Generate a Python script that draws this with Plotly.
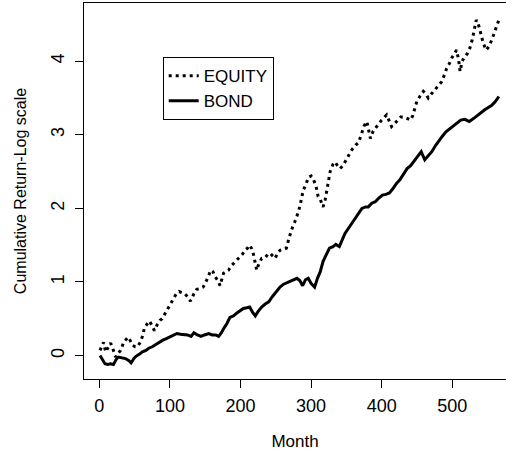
import plotly.graph_objects as go

bond_month = [1, 4, 8, 12, 16, 20, 24, 27, 32, 37, 42, 45, 49, 52, 57, 61, 66, 70, 75, 80,
              85, 90, 95, 100, 105, 110, 115, 120, 125, 130, 134, 139, 144, 149, 155, 160, 165, 169, 173, 177,
              181, 185, 190, 195, 199, 204, 209, 213, 217, 221, 225, 230, 235, 240, 245, 251, 256, 261, 266, 271,
              276, 280, 284, 288, 292, 296, 300, 305, 309, 313, 317, 321, 326, 331, 335, 340, 344, 348, 353, 358,
              363, 368, 372, 377, 381, 386, 391, 396, 401, 406, 411, 416, 421, 426, 431, 436, 441, 447, 452, 456,
              461, 466, 471, 476, 481, 486, 491, 496, 501, 506, 512, 518, 524, 530, 536, 541, 546, 551, 556, 561, 566]
bond = [0.00, -0.05, -0.11, -0.12, -0.11, -0.12, -0.05, -0.02, -0.03, -0.04, -0.07, -0.10, -0.04, -0.01, 0.02, 0.05, 0.07, 0.10, 0.12, 0.15,
        0.19, 0.21, 0.23, 0.25, 0.27, 0.30, 0.29, 0.29, 0.28, 0.26, 0.31, 0.28, 0.26, 0.28, 0.30, 0.28, 0.28, 0.26, 0.31, 0.38,
        0.44, 0.52, 0.54, 0.58, 0.61, 0.64, 0.65, 0.66, 0.59, 0.54, 0.60, 0.66, 0.70, 0.73, 0.80, 0.88, 0.93, 0.97, 0.99, 1.01,
        1.03, 1.05, 1.02, 0.95, 1.03, 1.05, 0.98, 0.93, 1.05, 1.14, 1.28, 1.36, 1.46, 1.48, 1.51, 1.48, 1.57, 1.66, 1.73, 1.80,
        1.87, 1.95, 2.00, 2.02, 2.02, 2.07, 2.09, 2.14, 2.18, 2.19, 2.21, 2.27, 2.34, 2.39, 2.46, 2.54, 2.58, 2.66, 2.73, 2.77,
        2.66, 2.72, 2.77, 2.85, 2.92, 2.98, 3.04, 3.08, 3.12, 3.15, 3.20, 3.21, 3.18, 3.22, 3.27, 3.31, 3.34, 3.37, 3.40, 3.45, 3.52]

equity_month = [1, 4, 6, 9, 12, 16, 19, 23, 26, 30, 35, 41, 44, 47, 51, 54, 58, 61, 64, 68,
                71, 75, 78, 82, 86, 89, 94, 100, 105, 109, 113, 117, 121, 125, 129, 134, 138, 142, 147, 151,
                155, 158, 161, 164, 168, 171, 176, 180, 183, 187, 190, 195, 199, 203, 206, 210, 213, 216, 218, 221,
                223, 226, 230, 235, 239, 242, 246, 249, 253, 256, 261, 265, 268, 272, 277, 282, 285, 289, 293, 296,
                300, 303, 307, 310, 313, 317, 320, 323, 327, 331, 334, 338, 341, 345, 348, 353, 358, 363, 367, 371,
                375, 379, 382, 384, 388, 391, 396, 400, 404, 407, 411, 414, 418, 422, 427, 432, 437, 441, 444, 447,
                450, 454, 459, 463, 466, 470, 475, 480, 485, 489, 492, 496, 499, 503, 506, 509, 511, 514, 517, 522,
                525, 528, 531, 534, 537, 540, 544, 548, 552, 556, 560, 563, 566]
equity = [0.07, 0.15, 0.18, 0.05, 0.10, 0.17, 0.10, -0.02, 0.02, 0.07, 0.19, 0.25, 0.20, 0.14, 0.12, 0.12, 0.18, 0.26, 0.38, 0.44,
          0.47, 0.40, 0.34, 0.42, 0.48, 0.50, 0.59, 0.69, 0.78, 0.84, 0.87, 0.86, 0.84, 0.80, 0.74, 0.84, 0.90, 0.91, 0.93, 1.00,
          1.09, 1.16, 1.14, 1.07, 1.02, 0.95, 1.12, 1.14, 1.16, 1.22, 1.25, 1.30, 1.34, 1.38, 1.43, 1.46, 1.50, 1.45, 1.39, 1.25,
          1.16, 1.25, 1.32, 1.33, 1.38, 1.39, 1.35, 1.32, 1.40, 1.43, 1.44, 1.46, 1.57, 1.70, 1.82, 1.95, 2.07, 2.25, 2.33, 2.42,
          2.44, 2.40, 2.30, 2.16, 2.12, 2.02, 2.12, 2.28, 2.50, 2.60, 2.63, 2.57, 2.54, 2.58, 2.63, 2.72, 2.80, 2.86, 2.89, 3.00,
          3.12, 3.18, 3.05, 2.95, 3.05, 3.09, 3.16, 3.20, 3.24, 3.27, 3.18, 3.11, 3.15, 3.19, 3.24, 3.24, 3.22, 3.20, 3.26, 3.36,
          3.46, 3.52, 3.59, 3.55, 3.50, 3.55, 3.61, 3.66, 3.72, 3.82, 3.90, 3.97, 4.04, 4.10, 4.15, 4.02, 3.86, 4.00, 4.05, 4.11,
          4.18, 4.28, 4.40, 4.56, 4.50, 4.38, 4.24, 4.15, 4.20, 4.29, 4.40, 4.48, 4.56]

x_ticks = [0, 100, 200, 300, 400, 500]
y_ticks = [0, 1, 2, 3, 4]

FONT = "Liberation Sans, Arial, sans-serif"

fig = go.Figure()
fig.add_trace(go.Scatter(x=equity_month, y=equity, mode="lines", name="EQUITY",
                         line=dict(color="black", width=3, dash="3px,4px")))
fig.add_trace(go.Scatter(x=bond_month, y=bond, mode="lines", name="BOND",
                         line=dict(color="black", width=3)))

fig.update_layout(
    width=506, height=453,
    margin=dict(l=84, r=0, t=3, b=74, pad=0),
    plot_bgcolor="white", paper_bgcolor="white",
    font=dict(family=FONT, size=18, color="black"),
    legend=dict(x=0.1865, y=0.856, xanchor="left", yanchor="top",
                bordercolor="black", borderwidth=1, bgcolor="white",
                font=dict(size=17), tracegroupgap=0),
    xaxis=dict(range=[-21.7, 576.1], tickvals=x_ticks, ticks="outside", ticklen=8,
               tickwidth=1, tickcolor="black", showline=True, linecolor="black", linewidth=1,
               mirror=True, showgrid=False, zeroline=False, ticklabelstandoff=2,
               title=dict(text="Month", standoff=20, font=dict(size=17)), tickfont=dict(size=18)),
    yaxis=dict(range=[-0.318, 4.79], tickvals=y_ticks, ticks="outside", ticklen=8,
               tickwidth=1, tickcolor="black", showline=True, linecolor="black", linewidth=1,
               mirror=False, showgrid=False, zeroline=False, tickangle=-90, ticklabelstandoff=4,
               title=dict(text="Cumulative Return-Log scale", standoff=17, font=dict(size=16)),
               tickfont=dict(size=18)),
)

fig.write_html("out.html")
